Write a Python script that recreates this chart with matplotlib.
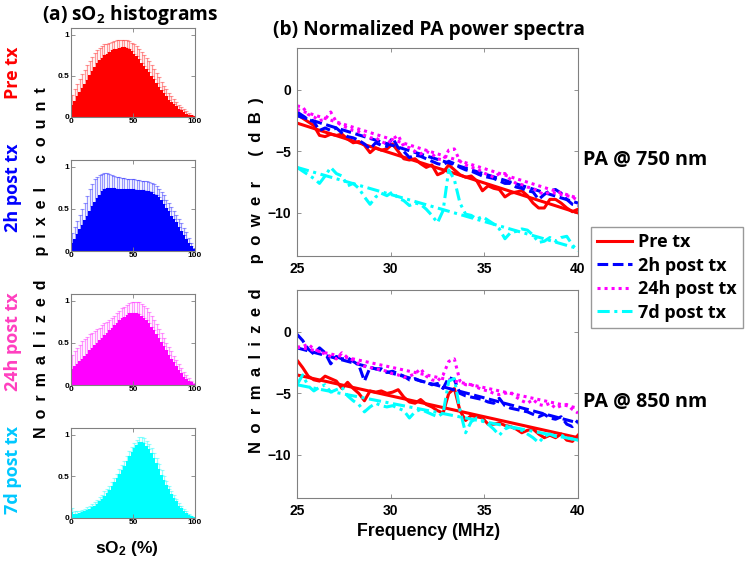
import numpy as np
import matplotlib
matplotlib.use("Agg")
import matplotlib.pyplot as plt

plt.rcParams['font.family'] = ['Liberation Sans', 'DejaVu Sans']
plt.rcParams['mathtext.default'] = 'regular'

# ---- (a) sO2 histograms: bin centres, mean height and top of the error bar
so2_bins = np.arange(1, 100, 2)
groups = ["Pre tx", "2h post tx", "24h post tx", "7d post tx"]
group_colors = ["#ff0000", "#0000ff", "#ff00ff", "#00ffff"]
label_colors = ["#ff0000", "#0000ff", "#ff3fbf", "#00c8ff"]

pre_mean = [0.15, 0.20, 0.25, 0.30, 0.35, 0.40, 0.45, 0.51, 0.56, 0.61,
            0.65, 0.69, 0.72, 0.75, 0.77, 0.79, 0.81, 0.82, 0.83, 0.84,
            0.845, 0.845, 0.84, 0.82, 0.80, 0.77, 0.74, 0.70, 0.66, 0.62,
            0.58, 0.54, 0.50, 0.46, 0.41, 0.37, 0.33, 0.29, 0.25, 0.21,
            0.18, 0.16, 0.13, 0.10, 0.08, 0.06, 0.04, 0.03, 0.02, 0.01]
pre_upper = [0.27, 0.34, 0.40, 0.46, 0.52, 0.57, 0.63, 0.68, 0.73, 0.78,
             0.81, 0.84, 0.86, 0.88, 0.89, 0.90, 0.91, 0.92, 0.93, 0.935,
             0.935, 0.935, 0.93, 0.92, 0.90, 0.89, 0.86, 0.83, 0.79, 0.75,
             0.72, 0.68, 0.63, 0.58, 0.53, 0.48, 0.43, 0.38, 0.34, 0.29,
             0.25, 0.22, 0.18, 0.15, 0.12, 0.10, 0.07, 0.05, 0.03, 0.01]

h2_mean = [0.09, 0.14, 0.20, 0.26, 0.31, 0.37, 0.42, 0.48, 0.53, 0.58,
           0.63, 0.67, 0.71, 0.74, 0.745, 0.745, 0.745, 0.745, 0.74, 0.74,
           0.74, 0.735, 0.735, 0.73, 0.73, 0.73, 0.725, 0.725, 0.72, 0.72,
           0.715, 0.71, 0.70, 0.68, 0.66, 0.64, 0.60, 0.56, 0.51, 0.47,
           0.42, 0.38, 0.34, 0.29, 0.24, 0.19, 0.14, 0.10, 0.06, 0.02]
h2_upper = [0.21, 0.28, 0.36, 0.43, 0.50, 0.57, 0.65, 0.73, 0.80, 0.85,
            0.88, 0.90, 0.91, 0.92, 0.92, 0.91, 0.90, 0.89, 0.88, 0.875,
            0.87, 0.865, 0.86, 0.855, 0.85, 0.85, 0.845, 0.84, 0.835, 0.83,
            0.825, 0.82, 0.81, 0.79, 0.77, 0.74, 0.70, 0.66, 0.61, 0.57,
            0.52, 0.47, 0.43, 0.38, 0.33, 0.27, 0.22, 0.16, 0.10, 0.04]

h24_mean = [0.19, 0.22, 0.25, 0.28, 0.31, 0.34, 0.37, 0.41, 0.44, 0.47,
            0.50, 0.53, 0.56, 0.59, 0.62, 0.65, 0.68, 0.71, 0.74, 0.77,
            0.79, 0.81, 0.83, 0.85, 0.86, 0.86, 0.855, 0.84, 0.82, 0.80,
            0.77, 0.73, 0.69, 0.65, 0.61, 0.56, 0.51, 0.46, 0.41, 0.36,
            0.31, 0.27, 0.22, 0.18, 0.14, 0.10, 0.07, 0.05, 0.03, 0.01]
h24_upper = [0.36, 0.40, 0.44, 0.48, 0.52, 0.55, 0.57, 0.60, 0.62, 0.64,
             0.66, 0.68, 0.71, 0.73, 0.75, 0.77, 0.79, 0.82, 0.85, 0.88,
             0.91, 0.93, 0.95, 0.97, 0.985, 0.99, 0.99, 0.98, 0.96, 0.94,
             0.91, 0.87, 0.82, 0.77, 0.72, 0.67, 0.62, 0.56, 0.50, 0.45,
             0.40, 0.35, 0.30, 0.25, 0.20, 0.16, 0.12, 0.08, 0.05, 0.02]

d7_mean = [0.07, 0.05, 0.05, 0.06, 0.07, 0.08, 0.10, 0.11, 0.13, 0.15,
           0.17, 0.20, 0.23, 0.27, 0.30, 0.34, 0.38, 0.43, 0.48, 0.53,
           0.58, 0.63, 0.68, 0.74, 0.79, 0.84, 0.88, 0.91, 0.915, 0.90,
           0.87, 0.83, 0.78, 0.72, 0.66, 0.59, 0.52, 0.46, 0.40, 0.35,
           0.29, 0.24, 0.20, 0.15, 0.12, 0.09, 0.06, 0.04, 0.02, 0.01]
d7_upper = [0.12, 0.09, 0.08, 0.09, 0.10, 0.11, 0.13, 0.15, 0.17, 0.19,
            0.22, 0.25, 0.28, 0.32, 0.35, 0.39, 0.43, 0.48, 0.53, 0.59,
            0.64, 0.69, 0.74, 0.80, 0.85, 0.90, 0.94, 0.97, 0.975, 0.96,
            0.93, 0.89, 0.84, 0.78, 0.72, 0.65, 0.58, 0.51, 0.45, 0.39,
            0.33, 0.28, 0.23, 0.18, 0.14, 0.11, 0.08, 0.05, 0.03, 0.01]

hist_means = [pre_mean, h2_mean, h24_mean, d7_mean]
hist_uppers = [pre_upper, h2_upper, h24_upper, d7_upper]

# ---- (b) PA power spectra (dB), 25-40 MHz in 0.3 MHz steps
freq = np.round(np.arange(25.0, 40.01, 0.3), 1)

pre_750 = [-2.0, -2.3, -2.6, -2.9, -3.7, -3.8, -3.6, -3.7, -3.6, -4.0,
           -4.3, -4.2, -4.5, -5.1, -4.7, -4.9, -4.8, -4.4, -5.0, -5.6,
           -5.7, -5.6, -6.0, -6.3, -6.1, -6.9, -6.7, -6.1, -6.5, -6.9,
           -7.1, -7.0, -7.4, -8.2, -7.8, -8.0, -8.1, -8.7, -8.4, -8.3,
           -8.2, -8.6, -9.2, -9.6, -9.6, -8.9, -8.9, -9.2, -9.6, -9.9,
           -9.7]
h2_750 = [-1.8, -2.1, -2.4, -2.6, -3.3, -3.1, -3.3, -3.1, -3.5, -3.8,
          -3.9, -4.1, -4.4, -4.8, -4.3, -4.5, -4.6, -3.9, -4.7, -5.0,
          -5.5, -5.3, -5.4, -5.6, -5.8, -6.0, -6.1, -5.8, -6.0, -6.3,
          -6.5, -6.6, -6.8, -7.0, -7.1, -7.2, -7.4, -7.6, -7.6, -7.9,
          -8.0, -8.2, -8.3, -8.9, -8.5, -8.2, -8.1, -8.4, -8.9, -9.3,
          -9.4]
h24_750 = [-1.3, -1.4, -2.0, -2.2, -2.5, -2.4, -1.8, -2.6, -2.9, -3.1,
           -3.3, -3.4, -3.7, -3.9, -3.9, -4.2, -4.4, -4.0, -3.7, -4.6,
           -4.7, -5.0, -5.2, -5.0, -5.2, -5.6, -5.7, -4.9, -4.8, -5.8,
           -6.1, -6.3, -6.4, -6.7, -6.9, -7.1, -6.8, -6.8, -7.3, -7.6,
           -7.7, -7.9, -8.0, -8.3, -8.5, -8.3, -8.4, -8.5, -8.6, -8.7,
           -9.0]
d7_750 = [-6.3, -6.6, -6.9, -7.2, -7.6, -7.0, -6.3, -6.8, -7.0, -7.8,
          -7.6, -8.0, -8.7, -9.3, -8.7, -8.4, -8.6, -8.3, -8.8, -9.0,
          -9.4, -9.2, -9.3, -9.7, -10.2, -10.8, -9.8, -6.5, -7.3, -9.2,
          -10.1, -10.2, -10.5, -10.3, -10.6, -10.9, -11.3, -12.1, -11.6, -11.5,
          -11.3, -11.4, -11.8, -12.4, -12.3, -12.0, -12.3, -12.0, -11.9, -12.6,
          -13.1]

pre_850 = [-2.3, -2.9, -3.6, -3.9, -4.0, -3.6, -3.8, -4.0, -4.6, -4.1,
           -4.6, -5.0, -5.6, -4.8, -4.9, -4.8, -5.0, -4.9, -4.7, -5.3,
           -5.7, -5.8, -5.5, -5.9, -6.1, -6.4, -6.6, -5.0, -4.6, -6.4,
           -7.2, -6.8, -6.9, -7.0, -7.5, -7.5, -7.4, -7.6, -7.7, -7.9,
           -8.2, -8.0, -7.9, -8.3, -8.6, -8.4, -8.6, -8.3, -8.8, -8.9,
           -8.4]
h2_850 = [-0.2, -0.7, -1.4, -1.8, -1.3, -1.7, -2.6, -2.0, -2.2, -2.1,
          -2.4, -2.7, -4.0, -2.9, -3.0, -3.0, -3.3, -3.2, -3.4, -3.6,
          -3.9, -3.8, -4.0, -4.1, -4.3, -4.2, -4.6, -3.7, -3.9, -5.0,
          -5.2, -5.3, -5.4, -5.5, -5.7, -5.8, -5.4, -6.0, -6.2, -6.3,
          -6.4, -6.5, -6.7, -6.9, -6.7, -7.0, -7.1, -6.9, -7.5, -7.7,
          -7.2]
h24_850 = [-1.3, -1.2, -1.0, -1.4, -1.6, -1.8, -2.0, -2.2, -1.7, -2.1,
           -2.3, -2.6, -2.8, -2.9, -3.0, -3.1, -3.2, -3.4, -3.5, -3.7,
           -3.6, -3.4, -3.0, -3.6, -3.9, -4.0, -3.5, -2.4, -2.2, -4.0,
           -4.3, -4.3, -4.5, -4.7, -4.8, -5.0, -5.1, -5.0, -4.9, -5.3,
           -5.6, -5.8, -5.5, -5.9, -6.0, -5.8, -6.2, -6.0, -5.9, -6.3,
           -6.6]
d7_850 = [-4.3, -3.5, -4.4, -4.8, -4.5, -4.3, -4.9, -4.7, -4.5, -5.2,
          -5.6, -5.9, -6.5, -6.1, -5.8, -6.0, -6.1, -6.0, -6.2, -6.4,
          -7.0, -6.5, -6.3, -6.5, -6.7, -6.9, -6.6, -4.0, -3.8, -6.4,
          -8.2, -7.3, -7.0, -7.2, -7.5, -7.9, -8.4, -7.9, -7.7, -7.9,
          -8.0, -8.3, -8.6, -9.0, -8.5, -8.3, -8.5, -8.4, -8.6, -8.7,
          -8.8]

# linear fits (value at 25 MHz, value at 40 MHz)
fit_750 = [(-2.7, -10.0), (-2.1, -9.2), (-1.6, -8.8), (-6.3, -12.9)]
fit_850 = [(-3.5, -8.6), (-1.3, -7.4), (-1.2, -6.2), (-4.3, -8.8)]
spectra_750 = [pre_750, h2_750, h24_750, d7_750]
spectra_850 = [pre_850, h2_850, h24_850, d7_850]

line_styles = ['-', (0, (3.5, 1.5)), (0, (1, 1.3)), (0, (4, 1.5, 1, 1.5))]

W, H = 750, 561
fig = plt.figure(figsize=(W / 100, H / 100), dpi=100)
CAL = ['Open Sans', 'DejaVu Sans']


def px_axes(left, top, right, bottom):
    return fig.add_axes([left / W, 1 - bottom / H, (right - left) / W, (bottom - top) / H])


def style_axes(ax, size, bold):
    for s in ax.spines.values():
        s.set_color('#808080')
        s.set_linewidth(0.8)
    ax.tick_params(direction='in', top=True, right=True, length=3,
                   width=0.6, color='#808080', labelsize=size, pad=2)
    for lab in ax.get_xticklabels() + ax.get_yticklabels():
        lab.set_fontweight('bold' if bold else 'normal')


def spaced(*words):
    sp = "\u2002"
    return (sp * 3).join(sp.join(w) for w in words)


# histogram panels
hist_boxes = [(28, 117), (160, 251), (294, 385), (428, 518)]
label_centres = [73, 188, 342, 470]
for i, (top, bottom) in enumerate(hist_boxes):
    ax = px_axes(71, top, 195, bottom)
    mean = np.array(hist_means[i])
    upper = np.array(hist_uppers[i])
    ax.bar(so2_bins, mean, width=2.0, color=group_colors[i], linewidth=0)
    ax.errorbar(so2_bins, mean, yerr=[np.zeros_like(mean), upper - mean], fmt='none',
                ecolor=group_colors[i], alpha=0.4, elinewidth=0.9, capsize=1.2, capthick=0.8)
    ax.set_xlim(0, 100)
    ax.set_ylim(0, 1.08)
    ax.set_xticks([0, 50, 100])
    ax.set_yticks([0, 0.5, 1])
    ax.set_yticklabels(['0', '0.5', '1'])
    style_axes(ax, 6, True)
    ax.tick_params(pad=1)
    fig.text(13 / W, 1 - label_centres[i] / H, groups[i], rotation=90,
             ha='center', va='center', color=label_colors[i], fontsize=13,
             fontweight='bold', family=CAL)

fig.text(130 / W, 1 - 15 / H, "(a) sO$_2$ histograms", ha='center', va='center',
         fontsize=13.8, fontweight='bold', family=CAL)
fig.text(42 / W, 1 - 263 / H, spaced("Normalized", "pixel", "count"),
         rotation=90, ha='center', va='center', fontsize=11.5, fontweight='bold')
fig.text(127 / W, 1 - 548 / H, "sO$_2$ (%)", ha='center', va='center',
         fontsize=12.5, fontweight='bold')

# spectra panels
spec_boxes = [(48, 256), (290, 498)]
for k, (top, bottom) in enumerate(spec_boxes):
    ax = px_axes(297, top, 578, bottom)
    data = spectra_750 if k == 0 else spectra_850
    fits = fit_750 if k == 0 else fit_850
    for i in range(4):
        ax.plot(freq, data[i], color=group_colors[i], linestyle=line_styles[i], linewidth=2.2,
                label=groups[i])
        ax.plot([25, 40], fits[i], color=group_colors[i], linestyle=line_styles[i], linewidth=2.2)
    ax.set_xlim(25, 40)
    ax.set_ylim(-13.5, 3.4)
    ax.set_xticks([25, 30, 35, 40])
    ax.set_yticks([-10, -5, 0])
    style_axes(ax, 10, True)
    ax.tick_params(pad=4)
    if k == 0:
        handles, labels = ax.get_legend_handles_labels()

fig.text(429 / W, 1 - 30 / H, "(b) Normalized PA power spectra", ha='center', va='center',
         fontsize=13.8, fontweight='bold', family=CAL)
fig.text(256 / W, 1 - 275 / H, spaced("Normalized", "power", "(dB)"),
         rotation=90, ha='center', va='center', fontsize=12, fontweight='bold')
fig.text(429 / W, 1 - 532 / H, "Frequency (MHz)", ha='center', va='center',
         fontsize=12.8, fontweight='bold')
fig.text(583 / W, 1 - 160 / H, "PA @ 750 nm", ha='left', va='center',
         fontsize=14.2, fontweight='bold', family=CAL)
fig.text(583 / W, 1 - 402 / H, "PA @ 850 nm", ha='left', va='center',
         fontsize=14.2, fontweight='bold', family=CAL)

fig.legend(handles, labels, loc='upper left', bbox_to_anchor=(591 / W, 1 - 227 / H),
           prop={'weight': 'bold', 'size': 13, 'family': CAL}, frameon=True, fancybox=False,
           edgecolor='#808080', handlelength=1.9, handletextpad=0.35,
           borderpad=0.35, labelspacing=0.3, borderaxespad=0)

fig.savefig("out.png", dpi=100)
